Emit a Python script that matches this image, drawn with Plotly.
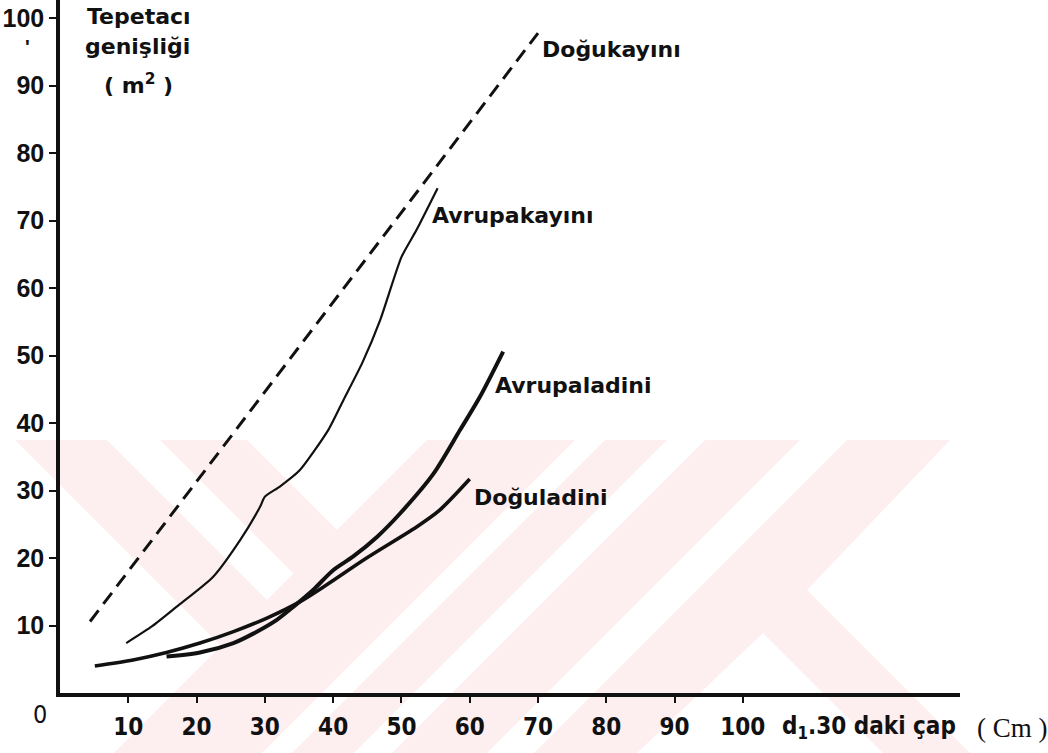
import plotly.graph_objects as go

# ---------------- data ----------------
dogukayini_x = [4.4, 70.0]
dogukayini_y = [10.6, 97.8]

avrupakayini_x = [9.7, 13.5, 17.1, 22.4, 26.4, 29.3, 30.0, 32.2, 35.1, 39.3, 41.5, 44.3, 46.9, 50.0, 52.2, 55.3]
avrupakayini_y = [7.4, 9.9, 12.8, 17.2, 22.7, 27.6, 29.1, 30.6, 33.0, 39.0, 43.4, 49.0, 55.3, 64.6, 68.6, 74.8]

avrupaladini_x = [15.6, 20.5, 25.4, 28.3, 31.7, 34.2, 37.1, 40.0, 42.9, 46.5, 49.8, 54.7, 58.6, 61.5, 64.9]
avrupaladini_y = [5.4, 6.0, 7.4, 8.8, 10.8, 12.8, 15.3, 18.2, 20.2, 23.2, 26.6, 32.5, 39.0, 43.9, 50.6]

doguladini_x = [5.1, 10.7, 15.6, 20.5, 25.4, 30.3, 35.1, 39.0, 44.9, 52.2, 55.6, 60.0]
doguladini_y = [4.0, 4.9, 6.0, 7.4, 9.1, 11.1, 13.5, 16.0, 20.0, 24.6, 27.1, 31.7]

x_ticks = [10, 20, 30, 40, 50, 60, 70, 80, 90, 100]
x_ticktext = ["10", "20", "30", "40", "50", "60", "70", "80", "90", "100"]
y_ticks = [10, 20, 30, 40, 50, 60, 70, 80, 90, 100]
y_ticktext = ["10", "20", "30", "40", "50", "60", "70", "80", "90", "100"]

curve_labels = ["Doğukayını", "Avrupakayını", "Avrupaladini", "Doğuladini"]
label_x = [70.3, 54.2, 63.4, 60.3]
label_y = [95.3, 70.7, 45.6, 28.9]

# ---------------- layout geometry ----------------
W, H = 1048, 753
ML, MR, MT, MB = 60, 88, 0, 60
PW, PH = W - ML - MR, H - MT - MB


def px(xp):
    return (xp - ML) / PW


def py(yp):
    return (H - MB - yp) / PH


INK = "#111111"
PINK = "#fdeef0"

fig = go.Figure()

fig.add_trace(go.Scatter(x=dogukayini_x, y=dogukayini_y, mode="lines",
                         line=dict(color=INK, width=3, dash="14px,8px"),
                         hoverinfo="skip", showlegend=False))
fig.add_trace(go.Scatter(x=avrupakayini_x, y=avrupakayini_y, mode="lines",
                         line=dict(color=INK, width=2.2, shape="spline", smoothing=0.6),
                         hoverinfo="skip", showlegend=False))
fig.add_trace(go.Scatter(x=doguladini_x, y=doguladini_y, mode="lines",
                         line=dict(color=INK, width=3.6, shape="spline", smoothing=0.8),
                         hoverinfo="skip", showlegend=False))
fig.add_trace(go.Scatter(x=avrupaladini_x, y=avrupaladini_y, mode="lines",
                         line=dict(color=INK, width=4.0, shape="spline", smoothing=0.8),
                         hoverinfo="skip", showlegend=False))

# ---------------- watermark (decoration) ----------------
def poly(points, color):
    d = "M " + " L ".join(f"{px(a):.5f},{py(b):.5f}" for a, b in points) + " Z"
    return dict(type="path", xref="paper", yref="paper", path=d,
                fillcolor=color, line=dict(width=0), layer="below")

wm_pink = [(15, 440), (950, 440), (807, 590), (970, 753), (114, 753), (221, 646)]
wm_white = [
    [(107, 440), (160, 440), (293.5, 573.5), (267, 600)],
    [(247, 440), (427, 440), (337, 530)],
    [(262, 753), (292, 753), (605, 440), (575, 440)],
    [(354, 753), (392, 753), (705, 440), (667, 440)],
    [(487, 753), (534, 753), (847, 440), (800, 440)],
    [(763, 633), (883, 753), (637, 753)],
]
shapes = [poly(wm_pink, PINK)] + [poly(p, "#ffffff") for p in wm_white]

# ---------------- annotations ----------------
LBL_FONT = "DejaVu Sans, Liberation Sans, sans-serif"
NARROW = "Liberation Sans Narrow, DejaVu Sans Condensed, Arial Narrow, Liberation Sans, sans-serif"
ann = []
for t, xx, yy in zip(curve_labels, label_x, label_y):
    ann.append(dict(x=xx, y=yy, xref="x", yref="y", text=t, showarrow=False,
                    xanchor="left", yanchor="middle",
                    font=dict(family=LBL_FONT, size=22, color=INK, weight="bold")))

for t, cx, cy in [("Tepetacı", 139, 17), ("genişliği", 137, 46), ("( m<sup>2</sup> )", 138, 84)]:
    ann.append(dict(x=px(cx), y=py(cy), xref="paper", yref="paper", text=t, showarrow=False,
                    xanchor="center", yanchor="middle",
                    font=dict(family=LBL_FONT, size=22, color=INK, weight="bold")))

ann.append(dict(x=px(40), y=py(715), xref="paper", yref="paper", text="0", showarrow=False,
                xanchor="center", yanchor="middle",
                font=dict(family=NARROW, size=25, color=INK)))
ann.append(dict(x=px(27), y=py(47), xref="paper", yref="paper", text="'", showarrow=False,
                xanchor="center", yanchor="middle",
                font=dict(family="Liberation Sans", size=20, color=INK, weight="bold")))
ann.append(dict(x=px(780), y=py(727), xref="paper", yref="paper",
                text="d<sub>1</sub>.30 daki çap", showarrow=False,
                xanchor="left", yanchor="middle",
                font=dict(family=NARROW, size=24, color=INK, weight="bold")))
ann.append(dict(x=px(975), y=py(728), xref="paper", yref="paper",
                text="( Cm )", showarrow=False,
                xanchor="left", yanchor="middle",
                font=dict(family="Liberation Serif, serif", size=27, color=INK)))

fig.update_layout(
    width=W, height=H, autosize=False,
    margin=dict(l=ML, r=MR, t=MT, b=MB, pad=0),
    paper_bgcolor="#ffffff", plot_bgcolor="rgba(0,0,0,0)",
    shapes=shapes, annotations=ann, showlegend=False,
    xaxis=dict(range=[0, 131.8], showgrid=False, zeroline=False,
               showline=True, linewidth=3.5, linecolor=INK,
               ticks="outside", ticklen=6, tickwidth=2, tickcolor=INK,
               tickvals=x_ticks, ticktext=x_ticktext, ticklabelstandoff=3,
               tickfont=dict(family=NARROW, size=24, color=INK, weight="bold")),
    yaxis=dict(range=[0, 102.7], showgrid=False, zeroline=False,
               showline=True, linewidth=3.5, linecolor=INK,
               ticks="outside", ticklen=7, tickwidth=2, tickcolor=INK,
               tickvals=y_ticks, ticktext=y_ticktext, ticklabelstandoff=0,
               tickfont=dict(family="Liberation Sans, Arial, sans-serif", size=25, color=INK, weight="bold")),
)

fig.write_html("out.html")
